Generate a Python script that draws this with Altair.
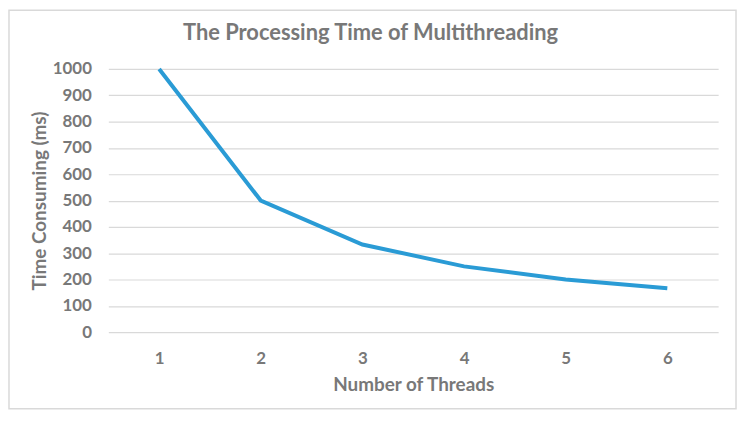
import altair as alt
import pandas as pd

threads = ["1", "2", "3", "4", "5", "6"]
times = [1000, 500, 333, 250, 200, 167]
title_text = ["The Processing Time of Multithreading"]

df = pd.DataFrame({"threads": threads, "time": times})

FONT = "Lato"
GRAY = "#787878"

W, H = 614, 265
PL, PT, PR, PB = 101, 60, 20, 78

border = alt.Chart(pd.DataFrame({"a": [0]})).mark_rect(
    fill=None, stroke="#d9d9d9", strokeWidth=1.5
).encode(
    x=alt.value(-100), x2=alt.value(632),
    y=alt.value(-59), y2=alt.value(H + 77)
)

title = alt.Chart(pd.DataFrame({"t": title_text})).mark_text(
    font=FONT, fontSize=22, fontWeight="bold", color=GRAY, align="center", baseline="middle"
).encode(text="t:N", x=alt.value(264), y=alt.value(-36))

line = alt.Chart(df).mark_line(color="#2a9bd5", strokeWidth=4).encode(
    x=alt.X("threads:O", sort=threads,
            scale=alt.Scale(type="point", padding=0.5),
            axis=alt.Axis(title="Number of Threads", labelAngle=0,
                          domain=False, ticks=False, grid=False,
                          labelPadding=19, titlePadding=9)),
    y=alt.Y("time:Q", scale=alt.Scale(domain=[0, 1000], nice=False),
            axis=alt.Axis(title="Time Consuming (ms)", values=list(range(0, 1001, 100)),
                          format="d",
                          domain=False, ticks=False, gridColor="#d9d9d9",
                          gridWidth=1.2, labelPadding=17, titlePadding=3)),
)

chart = alt.layer(border, title, line).properties(
    width=W, height=H,
    padding={"left": PL, "top": PT, "right": PR, "bottom": PB},
    autosize=alt.AutoSizeParams(type="none"),
).configure_view(stroke=None).configure_axis(
    labelFont=FONT, labelFontSize=17, labelColor=GRAY, labelFontWeight="bold",
    titleFont=FONT, titleFontSize=19, titleColor=GRAY, titleFontWeight="bold",
)

chart.save("out.html", embed_options={"renderer": "svg", "actions": False})
